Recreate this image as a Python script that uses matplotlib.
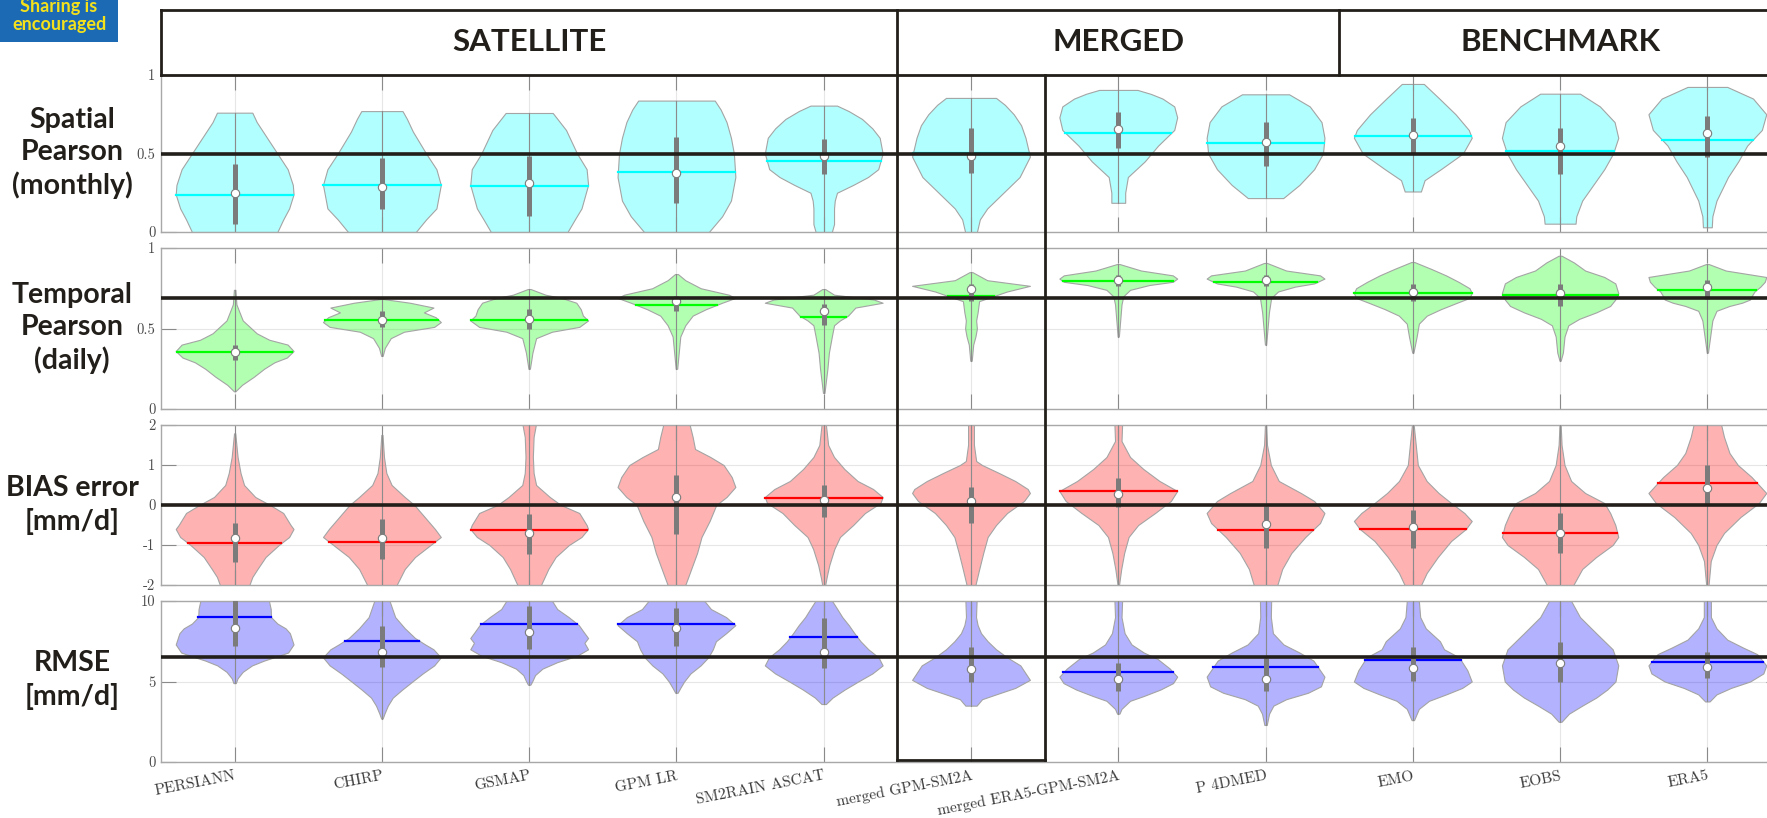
import numpy as np
import matplotlib
matplotlib.use('Agg')
import matplotlib.pyplot as plt
from matplotlib.lines import Line2D
from matplotlib.patches import Rectangle
from matplotlib.transforms import blended_transform_factory

W, H = 1767, 818

products = ['PERSIANN', 'CHIRP', 'GSMAP', 'GPM LR', 'SM2RAIN ASCAT',
            'merged GPM-SM2A', 'merged ERA5-GPM-SM2A', 'P 4DMED',
            'EMO', 'EOBS', 'ERA5']
groups = ['SATELLITE', 'MERGED', 'BENCHMARK']
group_edges = [0.5, 5.5, 8.5, 11.5]

# violin outlines: (value, half width) from bottom to top
spatial_shape = [
    [(0, .29), (.08, .33), (.15, .37), (.24, .40), (.30, .395), (.40, .36), (.50, .29), (.60, .22), (.70, .15), (.76, .12)],
    [(0, .23), (.08, .30), (.15, .37), (.30, .40), (.40, .37), (.50, .30), (.64, .21), (.72, .17), (.77, .14)],
    [(0, .26), (.08, .31), (.15, .355), (.30, .40), (.40, .39), (.50, .325), (.65, .25), (.758, .16)],
    [(0, .22), (.10, .31), (.20, .37), (.35, .40), (.50, .39), (.60, .37), (.70, .34), (.78, .30), (.837, .26)],
    [(0, .055), (.05, .07), (.15, .07), (.20, .075), (.25, .09), (.30, .20), (.35, .30), (.40, .37), (.50, .40),
     (.60, .38), (.66, .33), (.72, .26), (.77, .17), (.805, .09)],
    [(0, .04), (.08, .06), (.15, .11), (.25, .22), (.35, .33), (.48, .40), (.60, .37), (.68, .34), (.75, .29),
     (.81, .23), (.854, .17)],
    [(.186, .047), (.25, .047), (.35, .065), (.45, .18), (.55, .27), (.65, .38), (.73, .40), (.80, .38),
     (.85, .30), (.88, .22), (.905, .13)],
    [(.216, .12), (.30, .23), (.40, .33), (.50, .39), (.60, .40), (.70, .38), (.80, .30), (.877, .16)],
    [(.258, .055), (.33, .08), (.40, .19), (.50, .34), (.60, .40), (.65, .38), (.75, .29), (.85, .18), (.943, .075)],
    [(.053, .105), (.10, .11), (.20, .15), (.30, .225), (.40, .30), (.50, .36), (.60, .395), (.70, .37),
     (.80, .27), (.881, .135)],
    [(.03, .03), (.10, .034), (.20, .062), (.35, .14), (.45, .21), (.55, .27), (.65, .37), (.75, .40),
     (.85, .31), (.924, .135)],
]
spatial_median = [0.246, 0.288, 0.311, 0.375, 0.487, 0.487, 0.657, 0.572, 0.619, 0.547, 0.63]
spatial_mean = [0.237, 0.297, 0.29, 0.381, 0.455, 0.504, 0.631, 0.566, 0.614, 0.513, 0.587]
spatial_q1 = [0.053, 0.144, 0.10, 0.184, 0.371, 0.377, 0.536, 0.42, 0.504, 0.37, 0.477]
spatial_q3 = [0.434, 0.47, 0.487, 0.604, 0.593, 0.665, 0.763, 0.70, 0.725, 0.665, 0.737]

temporal_shape = [
    [(.11, .005), (.15, .05), (.20, .13), (.25, .20), (.29, .27), (.32, .355), (.36, .40), (.40, .36),
     (.43, .235), (.47, .15), (.55, .055), (.65, .012), (.74, .005)],
    [(.33, .005), (.38, .02), (.44, .06), (.48, .15), (.51, .355), (.54, .40), (.57, .365), (.60, .285),
     (.63, .35), (.66, .19), (.683, .01)],
    [(.25, .005), (.35, .022), (.44, .047), (.48, .155), (.51, .34), (.55, .40), (.58, .365), (.62, .35),
     (.66, .32), (.69, .22), (.71, .11), (.745, .01)],
    [(.25, .005), (.45, .026), (.52, .06), (.58, .11), (.62, .20), (.66, .31), (.69, .40), (.71, .355),
     (.75, .165), (.80, .06), (.838, .01)],
    [(.10, .005), (.25, .025), (.35, .035), (.45, .055), (.52, .07), (.55, .11), (.58, .165), (.63, .215),
     (.66, .40), (.68, .34), (.71, .07), (.745, .01)],
    [(.30, .005), (.40, .015), (.45, .03), (.50, .04), (.55, .035), (.60, .045), (.67, .055), (.70, .15),
     (.73, .245), (.765, .40), (.80, .11), (.85, .01)],
    [(.45, .004), (.65, .022), (.70, .034), (.74, .08), (.77, .21), (.79, .37), (.81, .40), (.83, .37),
     (.86, .155), (.90, .01)],
    [(.40, .004), (.60, .023), (.69, .038), (.73, .085), (.76, .20), (.78, .33), (.81, .40), (.83, .37),
     (.86, .14), (.907, .01)],
    [(.35, .004), (.45, .026), (.53, .041), (.58, .095), (.62, .19), (.66, .30), (.69, .385), (.72, .40),
     (.75, .385), (.79, .31), (.83, .225), (.87, .125), (.913, .01)],
    [(.30, .004), (.35, .019), (.45, .03), (.52, .056), (.56, .13), (.60, .245), (.64, .34), (.68, .375),
     (.72, .395), (.78, .375), (.82, .30), (.86, .17), (.91, .094), (.952, .01)],
    [(.35, .004), (.55, .034), (.61, .062), (.64, .15), (.66, .235), (.68, .29), (.70, .30), (.73, .32),
     (.76, .36), (.79, .39), (.82, .40), (.86, .125), (.90, .01)],
]
temporal_median = [0.351, 0.554, 0.558, 0.668, 0.61, 0.745, 0.803, 0.803, 0.724, 0.72, 0.755]
temporal_mean = [0.353, 0.554, 0.554, 0.647, 0.573, 0.703, 0.793, 0.788, 0.72, 0.71, 0.74]
temporal_q1 = [0.305, 0.508, 0.496, 0.606, 0.523, 0.672, 0.766, 0.761, 0.668, 0.637, 0.683]
temporal_q3 = [0.398, 0.606, 0.622, 0.703, 0.653, 0.776, 0.834, 0.834, 0.776, 0.776, 0.803]

bias_shape = [
    [(-2.2, .09), (-2, .10), (-1.8, .12), (-1.6, .155), (-1.3, .21), (-1.0, .30), (-0.8, .37), (-0.6, .40),
     (-0.5, .38), (-0.2, .33), (0, .24), (0.2, .14), (0.5, .064), (0.8, .04), (1.2, .02), (1.79, .004)],
    [(-2.2, .09), (-2, .10), (-1.6, .155), (-1.3, .225), (-1.0, .33), (-0.8, .40), (-0.6, .36), (-0.3, .29),
     (0, .22), (0.2, .155), (0.5, .066), (0.8, .03), (1.2, .014), (1.75, .004)],
    [(-2.2, .07), (-2, .08), (-1.6, .13), (-1.3, .18), (-1.0, .27), (-0.8, .355), (-0.6, .40), (-0.5, .39),
     (-0.2, .34), (0, .215), (0.2, .14), (0.5, .047), (0.8, .03), (1.2, .025), (1.7, .03), (2.0, .045), (2.2, .045)],
    [(-2.2, .05), (-2, .06), (-1.6, .10), (-1.2, .14), (-0.8, .17), (-0.4, .225), (0, .27), (0.2, .34),
     (0.45, .40), (0.7, .375), (1.0, .32), (1.2, .23), (1.4, .126), (1.7, .11), (2.0, .09), (2.2, .09)],
    [(-2.2, .008), (-2, .01), (-1.8, .02), (-1.5, .038), (-1.1, .072), (-0.8, .11), (-0.5, .20), (-0.2, .28),
     (0.05, .385), (0.2, .40), (0.4, .335), (0.6, .23), (0.9, .14), (1.2, .07), (1.5, .03), (2.0, .015), (2.2, .015)],
    [(-2.2, .025), (-2, .03), (-1.6, .056), (-1.2, .083), (-0.8, .113), (-0.5, .17), (-0.2, .245), (0.1, .36),
     (0.3, .40), (0.4, .385), (0.6, .30), (0.8, .19), (1.0, .075), (1.1, .035), (1.5, .02), (2.2, .02)],
    [(-2.2, .004), (-2, .005), (-1.6, .02), (-1.2, .04), (-0.8, .07), (-0.5, .135), (-0.2, .25), (0.1, .357),
     (0.35, .40), (0.6, .28), (0.9, .17), (1.2, .08), (1.6, .022), (2.0, .026), (2.2, .026)],
    [(-2.2, .07), (-2, .08), (-1.6, .113), (-1.2, .175), (-0.8, .27), (-0.45, .37), (-0.2, .40), (0.1, .33),
     (0.3, .24), (0.6, .09), (1.0, .036), (1.5, .01), (2.0, .004), (2.2, .004)],
    [(-2.2, .05), (-2, .056), (-1.7, .094), (-1.3, .17), (-0.9, .26), (-0.6, .36), (-0.4, .40), (-0.2, .35),
     (0.05, .26), (0.3, .175), (0.6, .094), (1.0, .034), (1.5, .02), (2.0, .006), (2.2, .006)],
    [(-2.2, .08), (-2, .09), (-1.6, .15), (-1.3, .245), (-1.0, .357), (-0.8, .395), (-0.5, .375), (-0.2, .34),
     (0.05, .30), (0.3, .17), (0.6, .075), (1.0, .03), (1.5, .01), (2.0, .004), (2.2, .004)],
    [(-2.2, .006), (-2, .008), (-1.4, .023), (-1.0, .062), (-0.7, .113), (-0.3, .225), (0.05, .35), (0.3, .40),
     (0.7, .30), (1.0, .207), (1.3, .15), (1.7, .113), (2.0, .094), (2.2, .094)],
]
bias_median = [-0.83, -0.83, -0.69, 0.19, 0.13, 0.10, 0.28, -0.47, -0.56, -0.70, 0.42]
bias_mean = [-0.96, -0.92, -0.625, 0.0, 0.17, 0.0, 0.34, -0.62, -0.60, -0.70, 0.55]
bias_q1 = [-1.43, -1.36, -1.23, -0.73, -0.31, -0.46, -0.04, -1.08, -1.08, -1.19, 0.0]
bias_q3 = [-0.44, -0.35, -0.22, 0.75, 0.50, 0.46, 0.68, -0.02, -0.12, -0.19, 1.0]

rmse_shape = [
    [(4.9, .008), (5.2, .02), (5.6, .055), (6.0, .118), (6.3, .20), (6.6, .30), (6.8, .363), (7.3, .40),
     (8.0, .375), (8.3, .346), (8.6, .29), (9.0, .247), (9.5, .245), (10.0, .233), (10.4, .22)],
    [(2.7, .005), (3.0, .017), (3.5, .04), (4.0, .074), (4.5, .138), (5.0, .207), (5.5, .277), (6.0, .355),
     (6.5, .40), (7.0, .35), (7.3, .294), (7.7, .225), (8.3, .156), (9.0, .09), (10.0, .052), (10.4, .05)],
    [(4.8, .008), (5.0, .02), (5.4, .04), (5.8, .09), (6.2, .19), (6.6, .325), (7.0, .40), (7.4, .375),
     (7.7, .40), (8.1, .368), (8.5, .337), (9.0, .268), (9.5, .19), (10.0, .156), (10.4, .14)],
    [(4.3, .008), (4.6, .026), (5.0, .052), (5.5, .095), (6.0, .164), (6.5, .216), (7.0, .247), (7.5, .268),
     (8.0, .337), (8.5, .40), (9.0, .337), (9.5, .234), (10.0, .19), (10.4, .17)],
    [(3.6, .015), (4.0, .06), (4.5, .142), (5.0, .234), (5.5, .33), (6.0, .40), (6.5, .372), (7.0, .303),
     (7.5, .25), (8.0, .208), (8.5, .17), (9.0, .126), (9.5, .092), (10.0, .057), (10.4, .05)],
    [(3.5, .038), (3.9, .075), (4.2, .17), (4.6, .30), (5.1, .40), (6.0, .335), (6.5, .245), (7.0, .17),
     (7.5, .113), (8.0, .068), (8.5, .045), (9.0, .034), (10.0, .038), (10.4, .038)],
    [(3.0, .008), (3.3, .022), (3.8, .08), (4.1, .173), (4.5, .286), (4.9, .372), (5.3, .40), (5.8, .35),
     (6.4, .267), (6.8, .173), (7.3, .09), (8.0, .043), (9.0, .022), (10.0, .026), (10.4, .026)],
    [(2.3, .008), (3.0, .024), (3.5, .053), (3.9, .14), (4.3, .288), (4.7, .376), (5.3, .40), (6.3, .325),
     (6.8, .23), (7.3, .122), (8.0, .05), (9.0, .036), (10.0, .038), (10.4, .038)],
    [(2.6, .008), (3.3, .041), (3.8, .11), (4.2, .226), (4.6, .335), (5.0, .40), (5.7, .37), (6.5, .314),
     (7.0, .212), (7.5, .184), (8.3, .088), (9.0, .05), (10.0, .041), (10.4, .04)],
    [(2.5, .01), (3.0, .06), (3.5, .15), (4.0, .245), (4.5, .32), (5.0, .376), (6.0, .395), (7.0, .357),
     (8.0, .245), (9.0, .135), (10.0, .075), (10.4, .07)],
    [(3.76, .015), (4.2, .062), (4.6, .16), (5.0, .29), (5.5, .38), (6.0, .40), (6.7, .338), (7.1, .244),
     (7.6, .135), (8.3, .062), (9.0, .024), (10.0, .024), (10.4, .024)],
]
rmse_median = [8.35, 6.86, 8.06, 8.35, 6.86, 5.79, 5.14, 5.17, 5.83, 6.18, 5.93]
rmse_mean = [9.0, 7.54, 8.57, 8.55, 7.79, 6.5, 5.58, 5.89, 6.32, 6.5, 6.24]
rmse_q1 = [7.23, 5.89, 7.0, 7.23, 5.83, 5.0, 4.44, 4.38, 5.04, 5.0, 5.2]
rmse_q3 = [10.2, 8.45, 9.71, 9.55, 8.93, 7.17, 6.14, 6.45, 7.17, 7.48, 6.82]

row_labels = ['Spatial\nPearson\n(monthly)', 'Temporal\nPearson\n(daily)', 'BIAS error\n[mm/d]', 'RMSE\n[mm/d]']
reference_values = [0.5, 0.69, 0.0, 6.5]

rows = [
    dict(shape=spatial_shape, med=spatial_median, mean=spatial_mean, q1=spatial_q1, q3=spatial_q3,
         ylim=(0, 1), ticks=[0, 0.5, 1], ticklabels=['0', '0.5', '1'],
         face=(0, 1, 1, 0.3), line='#00ffff', box=(75, 232), label_y=153),
    dict(shape=temporal_shape, med=temporal_median, mean=temporal_mean, q1=temporal_q1, q3=temporal_q3,
         ylim=(0, 1), ticks=[0, 0.5, 1], ticklabels=['0', '0.5', '1'],
         face=(0, 1, 0, 0.3), line='#00ff00', box=(248, 409), label_y=328),
    dict(shape=bias_shape, med=bias_median, mean=bias_mean, q1=bias_q1, q3=bias_q3,
         ylim=(-2, 2), ticks=[-2, -1, 0, 1, 2], ticklabels=['-2', '-1', '0', '1', '2'],
         face=(1, 0, 0, 0.3), line='#ff0000', box=(425, 585), label_y=505),
    dict(shape=rmse_shape, med=rmse_median, mean=rmse_mean, q1=rmse_q1, q3=rmse_q3,
         ylim=(0, 10), ticks=[0, 5, 10], ticklabels=['0', '5', '10'],
         face=(0, 0, 1, 0.3), line='#0000ff', box=(601, 762), label_y=680),
]

DARK = '#221e1a'
AX_LEFT, AX_WIDTH = 161, 1620


def draw_violin(ax, x, shape, med, mean, q1, q3, face, line_color):
    v = np.array([p[0] for p in shape])
    w = np.array([p[1] for p in shape])
    ax.fill_betweenx(v, x - w, x + w, facecolor=face, edgecolor='#a4a4a4', lw=0.8, zorder=2)
    ax.plot([x, x], [v.min(), v.max()], color='#8c8c8c', lw=0.8, zorder=3)
    hw = np.interp(mean, v, w)
    ax.plot([x - hw, x + hw], [mean, mean], color=line_color, lw=1.6, zorder=4)
    ax.plot([x, x], [q1, q3], color='#7b7b7b', lw=3.6, solid_capstyle='butt', zorder=5)
    ax.plot(x, med, 'o', ms=6, mfc='white', mec='#7b7b7b', mew=0.8, zorder=6)


fig = plt.figure(figsize=(W / 100, H / 100), dpi=100)
xs = np.arange(1, len(products) + 1)
axes = []

for i, r in enumerate(rows):
    top, bottom = r['box']
    ax = fig.add_axes([AX_LEFT / W, 1 - bottom / H, AX_WIDTH / W, (bottom - top) / H])
    axes.append(ax)
    for k, x in enumerate(xs):
        draw_violin(ax, x, r['shape'][k], r['med'][k], r['mean'][k], r['q1'][k], r['q3'][k],
                    r['face'], r['line'])
    ax.axhline(reference_values[i], color=DARK, lw=2.6, zorder=8)

    ax.set_xlim(0.5, 11.5)
    ax.set_ylim(*r['ylim'])
    ax.set_xticks(xs)
    ax.set_yticks(r['ticks'])
    ax.set_yticklabels(r['ticklabels'], fontfamily='cmr10', fontsize=10.5, color='#4a4a4a')
    ax.grid(True, color='#e6e6e6', lw=0.8)
    ax.set_axisbelow(True)
    ax.tick_params(direction='in', length=11, width=0.8, color='#8a8a8a',
                   top=True, right=True, pad=4)
    ax.tick_params(axis='x', pad=5)
    for s in ax.spines.values():
        s.set_color('#a8a8a8')
        s.set_linewidth(1.0)
    if i == len(rows) - 1:
        ax.set_xticklabels(products, rotation=11, ha='right', rotation_mode='anchor',
                           fontfamily='cmr10', fontsize=11.2, color='#3a3a3a')
    else:
        ax.set_xticklabels([])

    fig.text(72 / W, 1 - r['label_y'] / H, row_labels[i], ha='center', va='center',
             fontfamily='Lato', fontweight='bold', fontsize=20.5, color=DARK, linespacing=1.3)

# group header and the box around the merged product column
blend = blended_transform_factory(axes[0].transData, fig.transFigure)
y_head = 1 - 10 / H
y_top = 1 - rows[0]['box'][0] / H
y_bot = 1 - (rows[-1]['box'][1] - 2) / H


def frame_line(x, y):
    fig.add_artist(Line2D(x, y, transform=blend, color=DARK, lw=2.0, clip_on=False))


frame_line([group_edges[0], group_edges[-1]], [y_head, y_head])
frame_line([group_edges[0], group_edges[-1]], [y_top, y_top])
frame_line([group_edges[0], group_edges[0]], [y_head, y_top])
frame_line([group_edges[1], group_edges[1]], [y_head, y_bot])
frame_line([group_edges[2], group_edges[2]], [y_head, y_top])
frame_line([6.5, 6.5], [y_top, y_bot])
frame_line([group_edges[1], 6.5], [y_bot, y_bot])

for g, name in enumerate(groups):
    xc = (group_edges[g] + group_edges[g + 1]) / 2
    fig.text(xc, (y_head + y_top) / 2, name, transform=blend, ha='center', va='center',
             fontfamily='Lato', fontweight='bold', fontsize=22.5, color=DARK)

# badge in the corner
fig.patches.append(Rectangle((0, 1 - 42 / H), 118 / W, 42 / H, transform=fig.transFigure,
                             facecolor='#1b6ab3', edgecolor='none'))
fig.text(59 / W, 1 - 12 / H, 'Sharing is', ha='center', va='baseline',
         fontfamily='Lato', fontweight='bold', fontsize=13, color='#f4e11c')
fig.text(59 / W, 1 - 30 / H, 'encouraged', ha='center', va='baseline',
         fontfamily='Lato', fontweight='bold', fontsize=13, color='#f4e11c')

fig.savefig('out.png', dpi=100)
